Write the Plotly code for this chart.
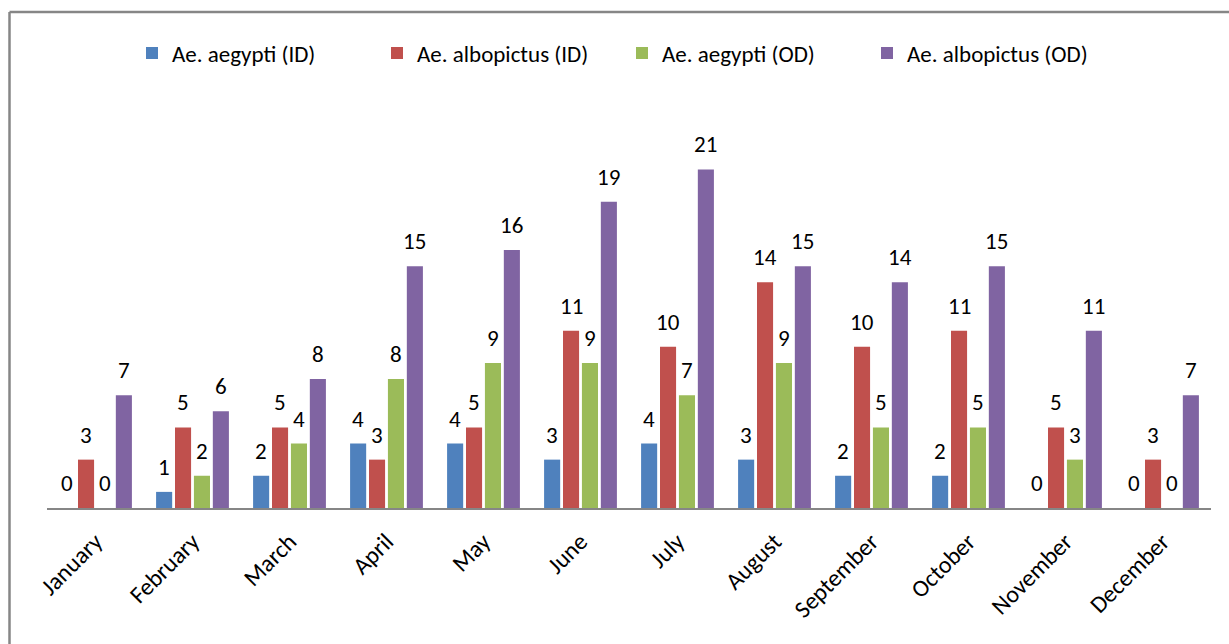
import plotly.graph_objects as go

months = ["January", "February", "March", "April", "May", "June", "July",
          "August", "September", "October", "November", "December"]

aegypti_id = [0, 1, 2, 4, 4, 3, 4, 3, 2, 2, 0, 0]
albopictus_id = [3, 5, 5, 3, 5, 11, 10, 14, 10, 11, 5, 3]
aegypti_od = [0, 2, 4, 8, 9, 9, 7, 9, 5, 5, 3, 0]
albopictus_od = [7, 6, 8, 15, 16, 19, 21, 15, 14, 15, 11, 7]

series_names = ["Ae. aegypti (ID)", "Ae. albopictus (ID)",
                "Ae. aegypti (OD)", "Ae. albopictus (OD)"]
series_values = [aegypti_id, albopictus_id, aegypti_od, albopictus_od]
colors = ["#4F81BD", "#C0504D", "#9BBB59", "#8064A2"]

FONT = "Carlito, Calibri, Lato, sans-serif"
W, H = 1229, 644
M_L, M_R, M_T, M_B = 47, 18, 121, 136
BARGAP, GROUPGAP = 0.22, 0.15

fig = go.Figure()
for name, vals, col in zip(series_names, series_values, colors):
    fig.add_trace(go.Bar(x=months, y=vals, name=name, marker_color=col,
                         marker_line_width=0))

# value labels above each bar, positioned on the category scale
n = len(series_values)
slot = (1 - BARGAP) / n
for k, vals in enumerate(series_values):
    off = (k - (n - 1) / 2) * slot
    for i, v in enumerate(vals):
        fig.add_annotation(x=i + off, y=v, text=str(v), showarrow=False,
                           xref="x", yref="y", yanchor="bottom", yshift=9,
                           font=dict(family=FONT, size=23, color="#000000"))

# outer frame (top and left edges)
pw = W - M_L - M_R
ph = H - M_T - M_B
def px_x(p):
    return (p - M_L) / pw
def px_y(p):
    return (H - M_B - p) / ph
frame = dict(color="#868686", width=2.5)
fig.add_shape(type="line", xref="paper", yref="paper",
              x0=px_x(9.5), x1=px_x(W + 5), y0=px_y(12), y1=px_y(12), line=frame)
fig.add_shape(type="line", xref="paper", yref="paper",
              x0=px_x(9.5), x1=px_x(9.5), y0=px_y(12), y1=px_y(H + 5), line=frame)

fig.update_layout(
    width=W, height=H,
    margin=dict(l=M_L, r=M_R, t=M_T, b=M_B),
    paper_bgcolor="white", plot_bgcolor="white",
    barmode="group", bargap=BARGAP, bargroupgap=GROUPGAP,
    font=dict(family=FONT, size=22, color="#000000"),
    showlegend=True,
    legend=dict(orientation="h", xref="container", yref="container",
                x=132 / W, xanchor="left", y=1 - 53 / H, yanchor="middle",
                font=dict(family=FONT, size=23, color="#000000"),
                entrywidth=200, traceorder="normal"),
    xaxis=dict(type="category", tickangle=-45, showline=True,
               linecolor="#868686", linewidth=2, ticks="",
               ticklabelstandoff=8,
               tickfont=dict(family=FONT, size=24, color="#000000"),
               showgrid=False, zeroline=False),
    yaxis=dict(range=[0, 24], visible=False, showgrid=False, zeroline=False),
)

fig.write_html("out.html")
